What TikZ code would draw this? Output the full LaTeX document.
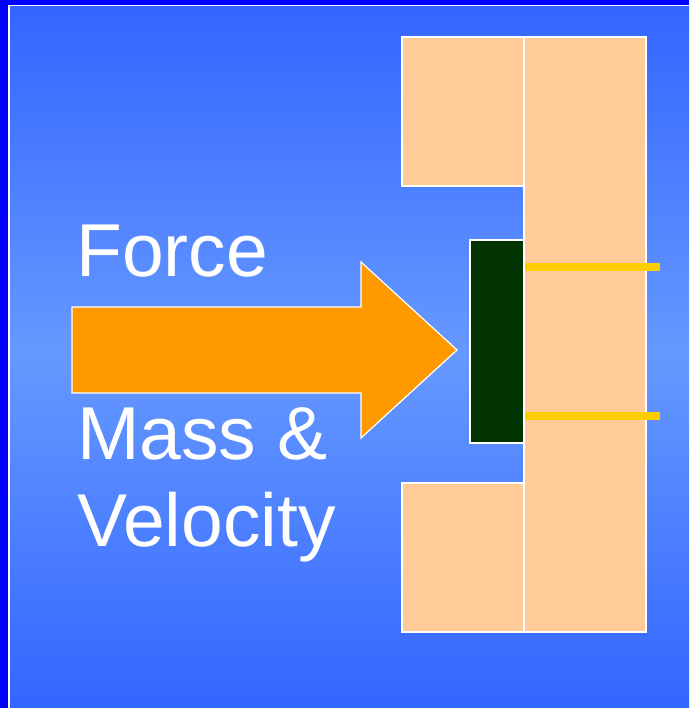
\documentclass[tikz,border=0pt]{standalone}
\usepackage{fontspec}
\setmainfont{Liberation Sans}
\definecolor{frameblue}{HTML}{0000FF}
\definecolor{bgedge}{HTML}{3366FF}
\definecolor{bgmid}{HTML}{6699FF}
\definecolor{wallcol}{HTML}{FFCC99}
\definecolor{platecol}{HTML}{003300}
\definecolor{barcol}{HTML}{FFCC00}
\definecolor{arrowcol}{HTML}{FF9900}
\tikzset{
  wall/.style={fill=wallcol, draw=white, line width=1.5pt},
  plate/.style={fill=platecol, draw=white, line width=1.2pt},
  bar/.style={fill=barcol, draw=none},
  bigarrow/.style={fill=arrowcol, draw=white, line width=1.2pt, line join=miter},
  label/.style={text=white, inner sep=0pt, anchor=base west, font=\fontsize{75}{87}\selectfont}
}
\begin{document}
\begin{tikzpicture}[x=1pt,y=1pt]
\useasboundingbox (0,0) rectangle (689,708);
% frame
\fill[frameblue] (0,0) rectangle (689,708);
\fill[white] (8,0) rectangle (689,703);
% background gradient (y measured upward here)
\shade[top color=bgedge, bottom color=bgmid] (10,355) rectangle (689,701);
\shade[top color=bgmid, bottom color=bgedge] (10,0) rectangle (689,355.5);
\begin{scope}[yshift=708pt, y=-1pt]
% walls
\draw[wall] (402,37) rectangle (524,186);
\draw[wall] (402,483) rectangle (524,632);
\draw[wall] (524,37) rectangle (646,632);
% plate
\draw[plate] (470,240) rectangle (524,443);
% bars
\fill[bar] (525,263) rectangle (660,271);
\fill[bar] (525,412) rectangle (660,420);
% arrow
\draw[bigarrow] (72,307) -- (361,307) -- (361,262) -- (457,350) -- (361,438) -- (361,393) -- (72,393) -- cycle;
% text
\node[label] (force) at (76,277) {Force};
\node[label] (mass) at (77,460) {Mass \&};
\node[label] (velocity) at (77,547) {Velocity};
\end{scope}
\end{tikzpicture}
\end{document}
